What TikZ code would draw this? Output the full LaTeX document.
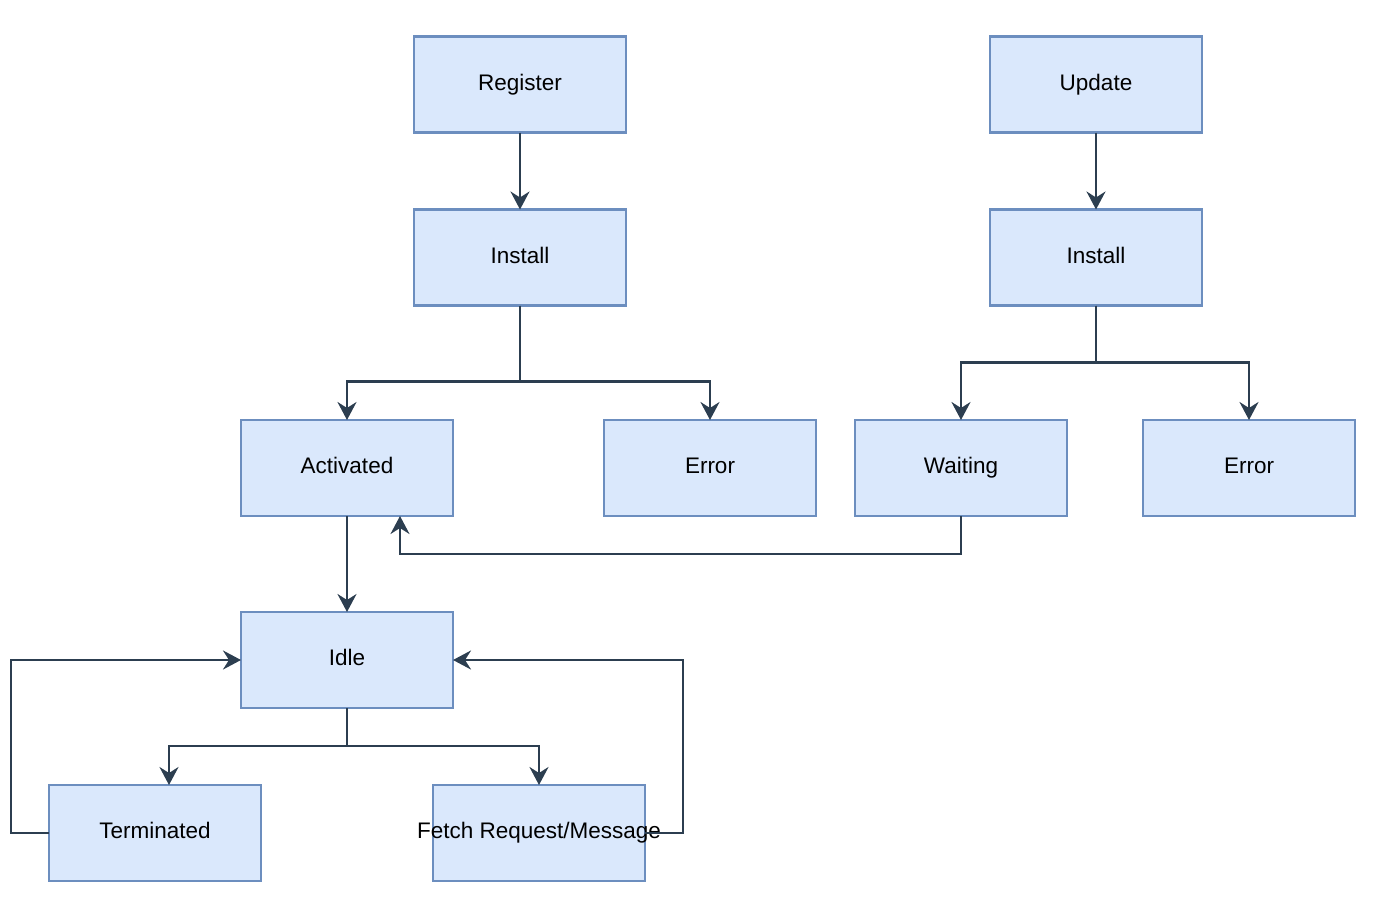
\documentclass[tikz,border=0pt]{standalone}
\usepackage{fontspec}
\setmainfont{Liberation Sans}
\usepackage{xcolor}
\usetikzlibrary{positioning, arrows.meta}

\definecolor{boxfill}{HTML}{DAE8FC}
\definecolor{boxline}{HTML}{6C8EBF}
\definecolor{edgeline}{HTML}{2C3E50}

\begin{document}
\begin{tikzpicture}[
				x=1pt, y=-1pt,
				node distance = 77pt,
				every node/.style = {draw=boxline, fill=boxfill, line width=2.2pt,
					minimum width=212pt, minimum height=96pt, inner sep=0pt, outer sep=0pt,
					text height=16pt, text depth=5pt,
					font=\fontsize{22.5}{27}\selectfont},
				flow/.style = {draw=edgeline, line width=2.5pt,
					-{Stealth[length=18pt, width=19pt, inset=6pt]}}
			]
				\useasboundingbox (0,0) rectangle (1374,922);
				%
				\node (register)  at (520,84.5)             {Register};
				\node (install1)  [below=of register]       {Install};
				%
				\node (update)    [right=364pt of register] {Update};
				\node (install2)  [below=of update]         {Install};
				%
				\node (activated) at (347,468)              {Activated};
				\node (error1)    [right=151pt of activated] {Error};
				\node (waiting)   [right=402pt of activated] {Waiting};
				\node (error2)    [right=76pt of waiting]    {Error};
				%
				\node (idle)      [below=96pt of activated]  {Idle};
				%
				\node (terminated) at (155,833)              {Terminated};
				\node (fetch)     [right=172pt of terminated] {\makebox[0pt]{Fetch Request/Message}};

				%
				\draw[flow] (register) -- (install1);
				\draw[flow] (update) -- (install2);
				%
				\draw[flow] (install1.south) -- ++(0,76) -| (activated.north);
				\draw[flow] (install1.south) -- ++(0,76) -| (error1.north);
				\draw[flow] (install2.south) -- ++(0,57) -| (waiting.north);
				\draw[flow] (install2.south) -- ++(0,57) -| (error2.north);
				%
				\draw[flow] (waiting.south) -- ++(0,38) -| ([xshift=53pt]activated.south);
				\draw[flow] (activated) -- (idle);
				%
				\draw[flow] (idle.south) -- ++(0,38) -| ([xshift=14pt]terminated.north);
				\draw[flow] (idle.south) -- ++(0,38) -| (fetch.north);
				\draw[flow] (terminated.west) -- ++(-38,0) |- (idle.west);
				\draw[flow] (fetch.east) -- ++(38,0) |- (idle.east);

			\end{tikzpicture}
\end{document}
